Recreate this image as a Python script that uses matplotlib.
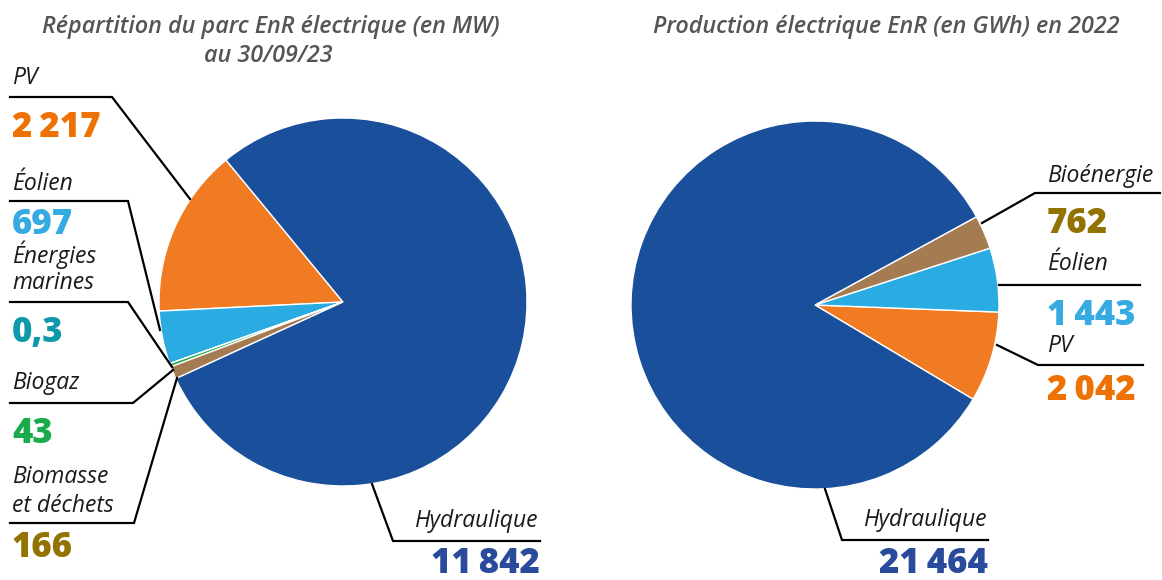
import matplotlib.pyplot as plt

W, H = 1162, 580

# Données
parc_labels = ['PV', 'Éolien', 'Énergies marines', 'Biogaz', 'Biomasse et déchets', 'Hydraulique']
parc_values = [2217, 697, 0.3, 43, 166, 11842]
parc_colors = ['#f07b22', '#2aabe2', '#1592a8', '#1fa84a', '#a57c52', '#1a4f9b']

prod_labels = ['PV', 'Éolien', 'Bioénergie', 'Hydraulique']
prod_values = [2042, 1443, 762, 21464]
prod_colors = ['#f07b22', '#2aabe2', '#a57c52', '#1a4f9b']

plt.rcParams['font.family'] = ['Open Sans', 'DejaVu Sans']

fig = plt.figure(figsize=(W / 100, H / 100), dpi=100)
ax = fig.add_axes([0, 0, 1, 1])


def Y(y):
    return H - y


R = 184
ax.pie(parc_values, colors=parc_colors, startangle=129.5, counterclock=True,
       center=(343, Y(302)), radius=R, frame=True,
       wedgeprops=dict(edgecolor='white', linewidth=1))
ax.pie(prod_values, colors=prod_colors, startangle=-30.8, counterclock=True,
       center=(815, Y(305)), radius=R, frame=True,
       wedgeprops=dict(edgecolor='white', linewidth=1))

ax.set_xlim(0, W)
ax.set_ylim(0, H)
ax.set_aspect('auto')
ax.axis('off')

# lignes de rappel
leaders = [
    [(10, 97), (112, 97), (190, 199)],
    [(10, 201), (128, 201), (160, 330)],
    [(10, 302), (128, 302), (172, 367)],
    [(10, 403), (133, 403), (173, 370)],
    [(10, 523), (134, 523), (177, 378)],
    [(372, 484), (393, 541), (540, 541)],
    [(982, 223), (1035, 193), (1160, 193)],
    [(999, 285), (1140, 285)],
    [(997, 345), (1038, 365), (1143, 365)],
    [(825, 489), (842, 540), (988, 540)],
]
for pts in leaders:
    xs = [p[0] for p in pts]
    ys = [Y(p[1]) for p in pts]
    ax.plot(xs, ys, color='black', lw=1.6, solid_joinstyle='miter')

lab = dict(fontsize=16.5, style='italic', color='#1a1a1a', va='baseline')
num = dict(fontsize=25, fontweight='heavy', va='baseline')

# titres
tit = dict(fontsize=16.8, style='italic', fontweight='semibold', color='#555555',
           ha='center', va='baseline')
ax.text(271, Y(33), 'Répartition du parc EnR électrique (en MW)', **tit)
ax.text(268, Y(62), 'au 30/09/23', **tit)
ax.text(886, Y(33), 'Production électrique EnR (en GWh) en 2022', **tit)

# étiquettes gauche
ax.text(12, Y(84), 'PV', **lab)
ax.text(12, Y(137), '2\u2009217', color='#ee7203', **num)
ax.text(12, Y(190), 'Éolien', **lab)
ax.text(12, Y(234), '697', color='#35abe2', **num)
ax.text(12, Y(263), 'Énergies', **lab)
ax.text(12, Y(289), 'marines', **lab)
ax.text(12, Y(342), '0,3', color='#0f98aa', **num)
ax.text(12, Y(389), 'Biogaz', **lab)
ax.text(12, Y(443), '43', color='#1aab4c', **num)
ax.text(12, Y(483), 'Biomasse', **lab)
ax.text(12, Y(512), 'et déchets', **lab)
ax.text(12, Y(557), '166', color='#927200', **num)
ax.text(538, Y(527), 'Hydraulique', ha='right', **lab)
ax.text(540, Y(573), '11\u2009842', ha='right', color='#2a4b9b', **num)

# étiquettes droite
ax.text(1047, Y(182), 'Bioénergie', **lab)
ax.text(1047, Y(233), '762', color='#927200', **num)
ax.text(1047, Y(270), 'Éolien', **lab)
ax.text(1047, Y(325), '1\u2009443', color='#35abe2', **num)
ax.text(1047, Y(352), 'PV', **lab)
ax.text(1047, Y(400), '2\u2009042', color='#ee7203', **num)
ax.text(987, Y(526), 'Hydraulique', ha='right', **lab)
ax.text(988, Y(573), '21\u2009464', ha='right', color='#2a4b9b', **num)

fig.savefig('out.png', dpi=100)
